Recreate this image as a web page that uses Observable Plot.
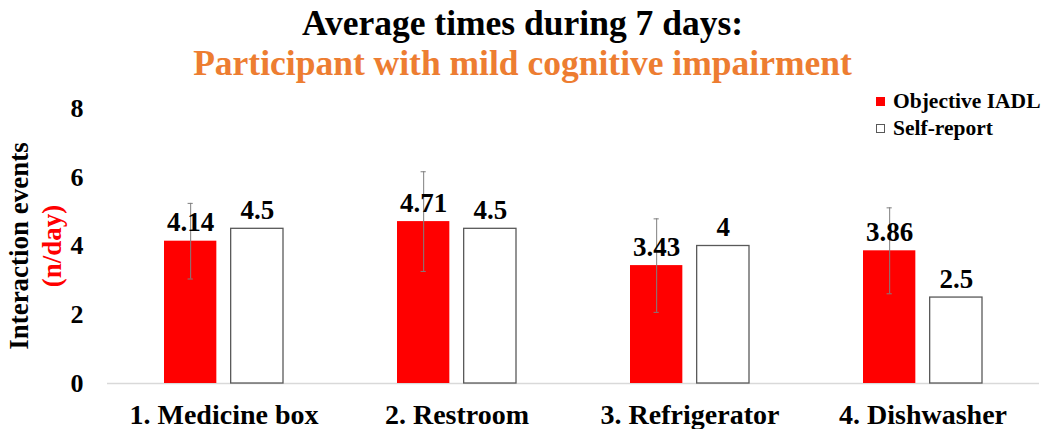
<!DOCTYPE html>
<html><head><meta charset="utf-8">
<script src="https://cdn.jsdelivr.net/npm/d3@7"></script>
<script src="https://cdn.jsdelivr.net/npm/@observablehq/plot@0.6"></script>
<style>
body{margin:0;background:#fff;font-family:'Liberation Serif','Times New Roman',serif;}
#wrap{position:relative;width:1045px;height:429px;overflow:hidden;background:#fff}
#title{height:90px;text-align:center;font-weight:bold;font-size:35.5px;line-height:40px;padding-top:3px;box-sizing:border-box;color:#000}
#title .sub{color:#ED7D31}
#legend{position:absolute;left:876px;top:88px;font-weight:bold;font-size:21.5px;color:#000}
#legend .item{display:flex;align-items:center;height:27px;white-space:nowrap}
#legend .sw{width:9px;height:9px;box-sizing:border-box;margin-right:8px}
#chart svg{display:block}
#chart svg, #chart svg text{font-family:'Liberation Serif','Times New Roman',serif !important;}
</style>
</head><body>
<div id="wrap">
  <div id="title"><div>Average times during 7 days:</div><div class="sub">Participant with mild cognitive impairment</div></div>
  <div id="legend"></div>
  <div id="chart"></div>
</div>
<script>
const categories = ["1. Medicine box", "2. Restroom", "3. Refrigerator", "4. Dishwasher"];
const seriesNames = ["Objective IADL", "Self-report"];
const objectiveValues = [4.14, 4.71, 3.43, 3.86];
const objectiveSD = [1.1, 1.45, 1.36, 1.25];
const selfReportValues = [4.5, 4.5, 4, 2.5];
const yTicks = [0, 2, 4, 6, 8];
const seriesFill = ["#FF0000", "#FFFFFF"];
const seriesStroke = ["#FF0000", "#595959"];

const objRows = categories.map((c, i) => ({category: c, series: seriesNames[0], value: objectiveValues[i], sd: objectiveSD[i]}));
const selfRows = categories.map((c, i) => ({category: c, series: seriesNames[1], value: selfReportValues[i]}));

const legend = document.getElementById("legend");
seriesNames.forEach((s, i) => {
  const item = document.createElement("div");
  item.className = "item";
  const sw = document.createElement("span");
  sw.className = "sw";
  sw.style.background = seriesFill[i];
  sw.style.border = "1px solid " + seriesStroke[i];
  item.appendChild(sw);
  item.appendChild(document.createTextNode(s));
  legend.appendChild(item);
});

// layout of the two bars inside each category band
const W = 1045, mL = 107, mR = 6;
const step = (W - mL - mR) / 4;
const bandW = step * (1 - 0.49);
const barGap = 14.5;
const barW = (bandW - barGap) / 2;
const inset = bandW - barW;           // inset that leaves one bar
const off = (barW + barGap) / 2;      // bar centre offset from band centre
const capHalf = 2.5;

const chart = Plot.plot({
  width: W,
  height: 339,
  marginTop: 18,
  marginBottom: 46,
  marginLeft: mL,
  marginRight: mR,
  style: {fontFamily: "'Liberation Serif','Times New Roman',serif", fontSize: "26px", fontWeight: "bold", color: "#000", background: "#fff"},
  x: {domain: categories, paddingInner: 0.49, paddingOuter: 0.245, label: null, tickSize: 0, tickPadding: 21},
  y: {domain: [0, 8], ticks: yTicks, tickSize: 0, tickPadding: 24, label: null},
  marks: [
    Plot.ruleY([0], {stroke: "#d9d9d9", strokeWidth: 1.5}),
    Plot.barY(objRows, {x: "category", y: "value", fill: seriesFill[0], insetRight: inset}),
    Plot.barY(selfRows, {x: "category", y: "value", fill: seriesFill[1], stroke: seriesStroke[1], strokeWidth: 1.3, insetLeft: inset}),
    Plot.ruleX(objRows, {x: "category", y1: d => d.value - d.sd, y2: d => d.value + d.sd, stroke: "#7f7f7f", strokeWidth: 1, dx: -off}),
    Plot.tickY(objRows, {x: "category", y: d => d.value + d.sd, stroke: "#7f7f7f", insetLeft: barW / 2 - capHalf, insetRight: inset + barW / 2 - capHalf}),
    Plot.tickY(objRows, {x: "category", y: d => d.value - d.sd, stroke: "#7f7f7f", insetLeft: barW / 2 - capHalf, insetRight: inset + barW / 2 - capHalf}),
    Plot.text(objRows, {x: "category", y: "value", text: d => String(d.value), lineAnchor: "bottom", dy: -10, dx: -off, fontSize: 27, fontWeight: "bold", fill: "#000"}),
    Plot.text(selfRows, {x: "category", y: "value", text: d => String(d.value), lineAnchor: "bottom", dy: -10, dx: off, fontSize: 27, fontWeight: "bold", fill: "#000"}),
    Plot.text(["Interaction events"], {text: d => d, frameAnchor: "left", textAnchor: "middle", lineAnchor: "middle", rotate: -90, dx: -88, fontSize: 27, fontWeight: "bold", fill: "#000"}),
    Plot.text(["(n/day)"], {text: d => d, frameAnchor: "left", textAnchor: "middle", lineAnchor: "middle", rotate: -90, dx: -55, fontSize: 27, fontWeight: "bold", fill: "#FF0000"})
  ]
});
chart.querySelectorAll("[aria-label='x-axis tick label']").forEach(el => el.setAttribute("font-size", 28));
document.getElementById("chart").appendChild(chart);
</script>
</body></html>
